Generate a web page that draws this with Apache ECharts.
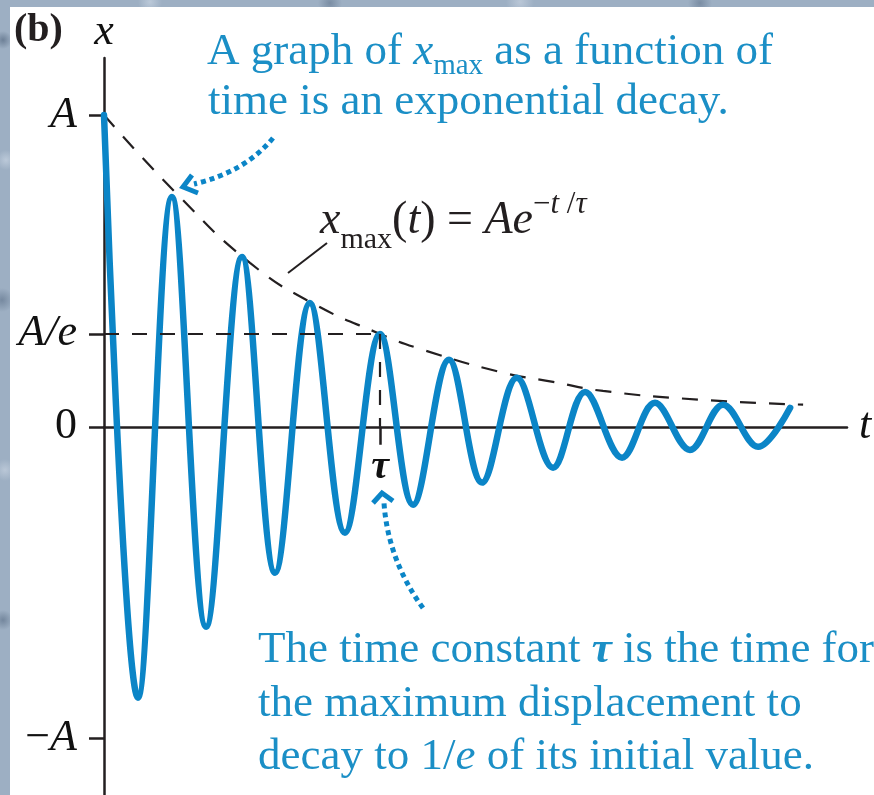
<!DOCTYPE html>
<html>
<head>
<meta charset="utf-8">
<script src="https://cdn.jsdelivr.net/npm/echarts@6/dist/echarts.min.js"></script>
<style>
  html, body { margin: 0; padding: 0; width: 874px; height: 795px; overflow: hidden; }
  body {
    background-color: #9dafc3;
    background-image:
      radial-gradient(circle at 3px 40px, rgba(70,90,115,0.55) 0, rgba(70,90,115,0) 9px),
      radial-gradient(circle at 6px 160px, rgba(200,212,226,0.7) 0, rgba(200,212,226,0) 10px),
      radial-gradient(circle at 2px 300px, rgba(80,100,125,0.5) 0, rgba(80,100,125,0) 12px),
      radial-gradient(circle at 5px 470px, rgba(205,215,228,0.6) 0, rgba(205,215,228,0) 11px),
      radial-gradient(circle at 3px 620px, rgba(75,95,120,0.5) 0, rgba(75,95,120,0) 10px),
      radial-gradient(circle at 150px 2px, rgba(200,212,226,0.7) 0, rgba(200,212,226,0) 12px),
      radial-gradient(circle at 330px 3px, rgba(80,100,125,0.45) 0, rgba(80,100,125,0) 12px),
      radial-gradient(circle at 520px 2px, rgba(205,215,228,0.6) 0, rgba(205,215,228,0) 14px),
      radial-gradient(circle at 700px 3px, rgba(80,100,125,0.45) 0, rgba(80,100,125,0) 12px);
  }
  #panel { position: absolute; left: 10px; top: 7px; right: 0; bottom: 0; background: #ffffff; }
  #chart { position: absolute; left: 0; top: 0; width: 874px; height: 795px; }
</style>
</head>
<body>
<div id="panel"></div>
<div id="chart"></div>
<script>
// Damped oscillation: time in units of the time constant tau, displacement in units of A.
// Turning points of the oscillation (start, alternating troughs and crests, end).
const oscTime = [0, 0.123, 0.246, 0.370, 0.500, 0.620, 0.746, 0.873, 1.000, 1.120,
                 1.250, 1.370, 1.496, 1.627, 1.743, 1.877, 1.996, 2.123, 2.243, 2.370, 2.486];
const oscValue = [1.000, -0.869, 0.737, -0.641, 0.545, -0.468, 0.397, -0.340, 0.298, -0.250,
                  0.215, -0.179, 0.157, -0.131, 0.112, -0.099, 0.077, -0.074, 0.071, -0.064, 0.061];

// Envelope x_max(t)
const envTime = [0, 0.275, 0.529, 0.746, 1.000, 1.156, 1.435, 1.627, 1.808, 2.159, 2.533];
const envValue = [1.000, 0.737, 0.526, 0.401, 0.298, 0.247, 0.176, 0.144, 0.115, 0.087, 0.071];

// Axis marks
const tauValue = 1;
const tauLabel = 'τ';
const aOverE = 0.298;
const yTickValues = [1, aOverE, 0, -1];
const yTickLabels = ['{i|A}', '{i|A/e}', '{n|0}', '{n|−}{i|A}'];
const xTickValues = [tauValue];

const SERIF = '"Liberation Serif", "Times New Roman", serif';
const INK = '#231f20';
const CURVE_BLUE = '#0b85c7';
const TEXT_BLUE = '#1b8fc6';

const chart = echarts.init(document.getElementById('chart'), null, { renderer: 'canvas' });

// inline text runs laid out left to right with measured widths
const measureCtx = document.createElement('canvas').getContext('2d');
function fontOf(p) {
  return (p.italic ? 'italic ' : '') + (p.bold ? 'bold ' : '') + (p.size || 45) + 'px ' + SERIF;
}
function textRun(pieces, x0, y, color) {
  let x = x0;
  const out = [];
  pieces.forEach(p => {
    const font = fontOf(p);
    out.push({
      type: 'text', x: x + (p.dx || 0), y: y + (p.dy || 0), silent: true,
      style: { text: p.t, font: font, fill: p.color || color, align: 'left', verticalAlign: 'middle' }
    });
    measureCtx.font = font;
    x += measureCtx.measureText(p.t).width + (p.dx || 0);
  });
  return out;
}

const graphics = [].concat(
  textRun([{ t: '(b)', bold: true, size: 40 }], 14, 31, INK),
  textRun([{ t: 'A graph of ' }, { t: 'x', italic: true }, { t: 'max', size: 29, dy: 14 }, { t: ' as a function of' }], 207, 52, TEXT_BLUE),
  textRun([{ t: 'time is an exponential decay.' }], 208, 102, TEXT_BLUE),
  textRun([{ t: 'The time constant ' }, { t: 'τ', italic: true, bold: true }, { t: ' is the time for' }], 258, 650, TEXT_BLUE),
  textRun([{ t: 'the maximum displacement to' }], 258, 704, TEXT_BLUE),
  textRun([{ t: 'decay to 1/' }, { t: 'e', italic: true }, { t: ' of its initial value.' }], 258, 757, TEXT_BLUE),
  textRun([
    { t: 'x', italic: true, size: 46 }, { t: 'max', size: 30, dy: 19 }, { t: '(', size: 46 }, { t: 't', italic: true, size: 46 }, { t: ') = ', size: 46 },
    { t: 'A', italic: true, size: 46 }, { t: 'e', italic: true, size: 46 },
    { t: '−', size: 31, dy: -16 }, { t: 't ', italic: true, size: 31, dy: -16 }, { t: '/', size: 31, dy: -16 }, { t: 'τ', italic: true, size: 31, dy: -16 }
  ], 320, 221, INK),
  [
    // leader from the formula to the envelope
    { type: 'line', silent: true, shape: { x1: 288, y1: 273, x2: 327, y2: 243 }, style: { stroke: INK, lineWidth: 2 } },
    // dotted arrow pointing at the envelope
    { type: 'bezierCurve', silent: true, shape: { x1: 273, y1: 138, cpx1: 245, cpy1: 172, x2: 194, y2: 184 },
      style: { stroke: CURVE_BLUE, lineWidth: 5, lineDash: [5, 4], fill: null } },
    { type: 'polyline', silent: true, shape: { points: [[192, 175], [183, 187], [198, 193]] },
      style: { stroke: CURVE_BLUE, lineWidth: 5, fill: null, lineJoin: 'miter' } },
    // dotted arrow pointing at tau
    { type: 'bezierCurve', silent: true, shape: { x1: 423, y1: 608, cpx1: 388, cpy1: 560, x2: 384, y2: 503 },
      style: { stroke: CURVE_BLUE, lineWidth: 5, lineDash: [5, 4], fill: null } },
    { type: 'polyline', silent: true, shape: { points: [[373, 503], [382, 493], [393, 501]] },
      style: { stroke: CURVE_BLUE, lineWidth: 5, fill: null, lineJoin: 'miter' } }
  ]
);

const labelRich = {
  i: { fontFamily: SERIF, fontSize: 44, fontStyle: 'italic', color: '#111' },
  n: { fontFamily: SERIF, fontSize: 44, color: '#111' }
};

const option = {
  animation: false,
  backgroundColor: 'transparent',
  grid: { left: 104, right: 27, top: 58, bottom: 0, containLabel: false, outerBoundsMode: 'none' },
  xAxis: {
    type: 'value', min: 0, max: 2.692,
    axisLine: { show: true, onZero: true, lineStyle: { color: INK, width: 2.5 } },
    axisTick: { show: true, customValues: xTickValues, length: 18, lineStyle: { color: INK, width: 2.5 } },
    axisLabel: { show: false },
    splitLine: { show: false },
    name: 't', nameLocation: 'end', nameGap: 12,
    nameTextStyle: { fontFamily: SERIF, fontSize: 44, fontStyle: 'italic', color: '#111', verticalAlign: 'middle' }
  },
  yAxis: {
    type: 'value', min: -1.181, max: 1.183,
    axisLine: { show: true, lineStyle: { color: INK, width: 2.5 } },
    axisTick: { show: true, customValues: yTickValues, length: 15, lineStyle: { color: INK, width: 2.5 } },
    axisLabel: {
      show: true, customValues: yTickValues, margin: 27,
      formatter: v => {
        let best = 0;
        yTickValues.forEach((t, k) => { if (Math.abs(t - v) < Math.abs(yTickValues[best] - v)) best = k; });
        return yTickLabels[best];
      },
      rich: labelRich
    },
    splitLine: { show: false },
    name: 'x', nameLocation: 'end', nameGap: 4,
    nameTextStyle: { fontFamily: SERIF, fontSize: 44, fontStyle: 'italic', color: '#111', align: 'center' }
  },
  graphic: graphics,
  series: [
    {
      name: 'envelope', type: 'line', smooth: 0.5, symbol: 'none', silent: true, z: 3,
      data: envTime.map((t, k) => [t, envValue[k]]),
      lineStyle: { color: INK, width: 2.2, type: [16, 13] },
      markLine: {
        silent: true, symbol: 'none', label: { show: false },
        lineStyle: { color: INK, width: 2.2, type: [15, 13] },
        data: [
          [{ coord: [0, aOverE] }, { coord: [tauValue, aOverE] }],
          [
            { coord: [tauValue, aOverE],
              label: { show: true, position: 'end', distance: 21, formatter: tauLabel,
                       fontFamily: SERIF, fontSize: 40, fontStyle: 'italic', fontWeight: 'bold', color: '#111' } },
            { coord: [tauValue, 0] }
          ]
        ]
      }
    },
    {
      name: 'displacement', type: 'line', smooth: 0.36, symbol: 'none', silent: true, z: 4,
      data: oscTime.map((t, k) => [t, oscValue[k]]),
      lineStyle: { color: CURVE_BLUE, width: 6.5, cap: 'round', join: 'round' }
    }
  ]
};

chart.setOption(option);
</script>
</body>
</html>
